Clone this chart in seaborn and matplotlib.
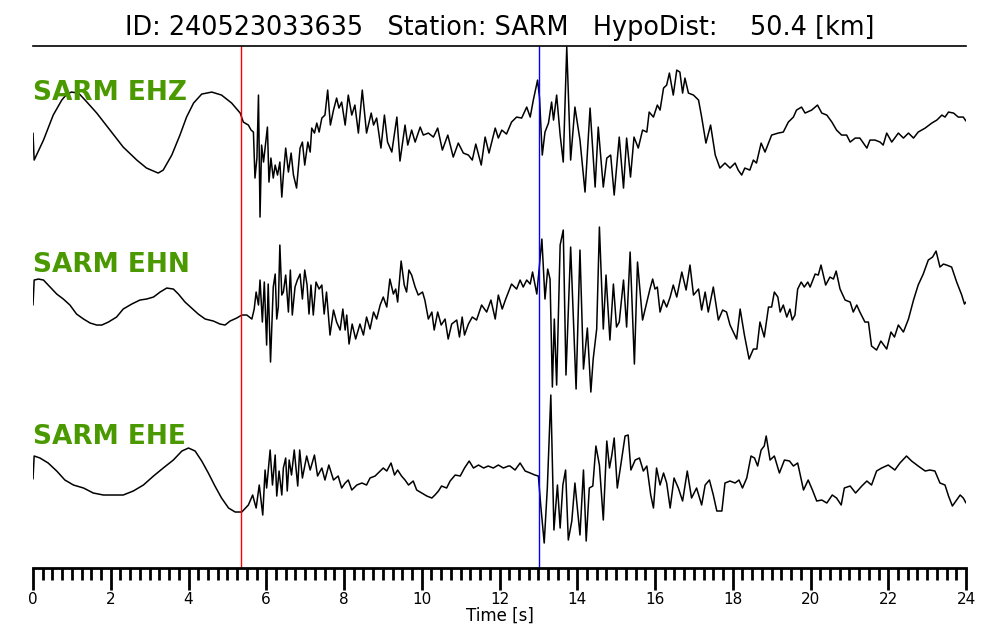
import matplotlib
matplotlib.use('Agg')
import matplotlib.pyplot as plt
from matplotlib.ticker import MultipleLocator
import seaborn as sns
import pandas as pd

# event / station info
event_id = '240523033635'
station = 'SARM'
hypo_dist = 50.4
channels = ['EHZ', 'EHN', 'EHE']
p_pick = 5.35
s_pick = 13.02

ehz_t = [0.0, 0.03, 0.27, 0.52, 0.74, 0.87, 0.99, 1.17, 1.34, 1.64, 1.98, 2.32, 2.67, 2.92, 3.22, 3.35,
         3.57, 3.78, 3.95, 4.13, 4.34, 4.60, 4.85, 5.11, 5.33, 5.41, 5.54, 5.61, 5.67, 5.71, 5.76, 5.80,
         5.84, 5.88, 5.93, 6.03, 6.07, 6.12, 6.18, 6.23, 6.29, 6.35, 6.40, 6.44, 6.50, 6.57, 6.64, 6.70,
         6.78, 6.87, 6.93, 6.99, 7.07, 7.13, 7.17, 7.24, 7.30, 7.36, 7.43, 7.51, 7.58, 7.65, 7.73, 7.81,
         7.87, 7.94, 8.03, 8.11, 8.20, 8.28, 8.37, 8.47, 8.58, 8.70, 8.76, 8.84, 8.95, 9.04, 9.12, 9.23,
         9.36, 9.44, 9.57, 9.64, 9.74, 9.83, 9.96, 10.04, 10.17, 10.30, 10.41, 10.53, 10.67, 10.81, 10.94,
         11.07, 11.20, 11.30, 11.39, 11.53, 11.63, 11.73, 11.89, 11.97, 12.06, 12.18, 12.31, 12.44, 12.57,
         12.70, 12.79, 12.87, 12.98, 13.03, 13.10, 13.17, 13.26, 13.34, 13.39, 13.47, 13.56, 13.64, 13.73,
         13.83, 13.94, 14.07, 14.20, 14.33, 14.46, 14.54, 14.67, 14.76, 14.86, 14.95, 15.08, 15.19, 15.27,
         15.37, 15.46, 15.57, 15.68, 15.79, 15.85, 15.96, 16.06, 16.13, 16.22, 16.30, 16.37, 16.47, 16.56,
         16.64, 16.71, 16.77, 16.86, 16.99, 17.12, 17.20, 17.31, 17.43, 17.55, 17.67, 17.80, 17.93, 18.06,
         18.14, 18.23, 18.31, 18.44, 18.53, 18.61, 18.73, 18.83, 19.00, 19.17, 19.30, 19.43, 19.56, 19.64,
         19.77, 19.86, 20.03, 20.18, 20.29, 20.42, 20.55, 20.67, 20.80, 20.93, 21.02, 21.15, 21.27, 21.36,
         21.45, 21.53, 21.66, 21.79, 21.87, 21.96, 22.09, 22.26, 22.39, 22.52, 22.65, 22.77, 22.95, 23.12,
         23.25, 23.38, 23.46, 23.55, 23.68, 23.80, 23.93, 24.0]
ehz_a = [0, -27, -7, 18, 33, 39, 41, 40, 33, 20, 3, -14, -27, -35, -40, -37,
         -22, -2, 16, 30, 39, 41, 38, 30, 20, 11, 8, 3, 1, -45, -25, 38,
         -84, -12, -29, 6, -49, -25, -45, -32, -42, -29, -64, -42, -15, -39, -20, -42,
         -55, -15, -9, -32, -9, -19, 5, 0, 10, 1, 15, 18, 43, 8, 23, 35,
         25, 31, 8, 38, 18, 28, 0, 43, 0, 20, 8, 15, -15, 18, -9, -19,
         16, -28, 8, -12, 3, -9, 6, -2, 0, -4, 5, -17, -2, -24, -10,
         -20, -22, -27, -11, -32, -4, -20, 5, -5, 3, -1, 11, 16, 15,
         26, 16, 33, 53, 35, -22, 1, 10, 31, 13, 38, -2, -29, 86,
         -27, 26, -7, -59, 25, -54, 6, -54, -25, -22, -62, -4, -55, -5,
         -44, -4, -15, 3, 1, 21, 16, 28, 23, 45, 48, 60, 38, 63,
         61, 40, 55, 40, 38, 33, 16, -10, 8, -22, -35, -30, -35, -30,
         -37, -42, -35, -37, -27, -30, -10, -19, -2, 0, 1, 11, 16, 23,
         26, 20, 23, 28, 20, 18, 11, 3, -2, -2, -9, -5, -5, -10,
         -15, -7, -7, -9, -12, 0, -9, 0, -5, 0, -5, 1, 5, 10,
         13, 18, 16, 21, 20, 16, 16, 12]

ehn_t = [0.0, 0.03, 0.14, 0.27, 0.44, 0.61, 0.78, 0.95, 1.12, 1.30, 1.47, 1.64, 1.77, 1.94, 2.15, 2.32,
         2.54, 2.75, 2.92, 3.10, 3.27, 3.44, 3.61, 3.74, 3.91, 4.08, 4.25, 4.43, 4.64, 4.81, 4.94, 5.07,
         5.24, 5.37, 5.50, 5.63, 5.69, 5.74, 5.80, 5.84, 5.90, 5.95, 6.01, 6.05, 6.11, 6.18, 6.23, 6.27,
         6.31, 6.35, 6.40, 6.44, 6.50, 6.57, 6.62, 6.67, 6.74, 6.80, 6.87, 6.93, 6.99, 7.05, 7.10, 7.15,
         7.21, 7.28, 7.36, 7.43, 7.49, 7.55, 7.64, 7.73, 7.81, 7.90, 7.97, 8.03, 8.07, 8.13, 8.21, 8.30,
         8.41, 8.50, 8.58, 8.67, 8.76, 8.84, 8.93, 9.01, 9.10, 9.18, 9.27, 9.33, 9.38, 9.47, 9.55, 9.61,
         9.67, 9.74, 9.83, 9.91, 10.02, 10.08, 10.17, 10.26, 10.32, 10.41, 10.50, 10.60, 10.68, 10.77,
         10.90, 10.97, 11.04, 11.10, 11.20, 11.30, 11.41, 11.54, 11.67, 11.78, 11.89, 11.97, 12.07, 12.16,
         12.31, 12.44, 12.53, 12.61, 12.70, 12.79, 12.85, 12.96, 13.09, 13.17, 13.24, 13.30, 13.36, 13.41,
         13.47, 13.56, 13.64, 13.71, 13.83, 13.97, 14.07, 14.16, 14.26, 14.35, 14.41, 14.50, 14.57, 14.67,
         14.74, 14.84, 14.93, 15.01, 15.08, 15.19, 15.27, 15.36, 15.47, 15.55, 15.68, 15.79, 15.87, 15.94,
         16.00, 16.06, 16.13, 16.22, 16.30, 16.39, 16.47, 16.56, 16.69, 16.80, 16.90, 16.99, 17.12, 17.20,
         17.29, 17.37, 17.50, 17.63, 17.74, 17.84, 17.93, 18.10, 18.19, 18.30, 18.42, 18.53, 18.62, 18.70,
         18.81, 18.92, 19.00, 19.07, 19.16, 19.22, 19.30, 19.39, 19.47, 19.53, 19.60, 19.67, 19.76, 19.84,
         19.93, 19.99, 20.12, 20.20, 20.27, 20.39, 20.50, 20.59, 20.66, 20.76, 20.89, 21.02, 21.10, 21.19,
         21.27, 21.40, 21.49, 21.57, 21.70, 21.81, 21.96, 22.07, 22.16, 22.26, 22.39, 22.52, 22.65, 22.77,
         22.90, 23.03, 23.14, 23.23, 23.33, 23.42, 23.50, 23.63, 23.76, 23.89, 23.96, 24.0]
ehn_a = [0, 25, 26, 25, 18, 11, 6, 0, -9, -14, -18, -20, -20, -17, -12, -4,
         1, 5, 6, 8, 13, 17, 16, 11, 3, -3, -9, -14, -16, -19, -20, -16,
         -13, -10, -10, -14, -4, 13, 0, 25, -17, 23, -40, 21, -57, 18, 31, -14,
         -2, 60, 10, 13, 30, -7, 35, -10, 18, 25, 31, 6, 35, 20, -9, 20,
         -10, 23, 16, 20, -9, 13, -30, -5, -17, -25, -4, -25, -10, -39, -19, -34,
         -19, -30, -12, -24, -7, -14, 0, 8, -2, 26, 11, 16, 3, 44, 20, 13,
         35, 30, 18, 10, 13, 5, -14, -7, -25, -7, -20, -14, -34, -19,
         -15, -32, -12, -30, -19, -12, -15, 0, -7, 5, -14, 10, -4, 6,
         21, 16, 25, 18, 25, 21, 33, 11, 66, 6, 36, 26, -82, -14,
         -80, 60, 75, -70, 58, -84, 55, -64, -23, -87, -54, -24, 78, -24,
         30, -35, 21, -22, -17, 25, -22, 53, -59, 43, -15, 3, 16, 26,
         16, 18, -7, 5, -2, 8, 20, 8, 33, 15, 40, 10, 16, -5,
         13, -7, 18, -15, -5, -7, -20, -34, -4, -30, -54, -44, -44, -17,
         -32, -2, -2, 13, 8, -7, 0, -12, -4, -15, -10, 16, 23, 18,
         23, 18, 31, 30, 40, 20, 28, 26, 34, 16, 5, 3, -7, 0,
         -7, -17, -17, -41, -45, -36, -44, -27, -32, -20, -27, -14, 5, 20,
         31, 45, 48, 54, 38, 41, 40, 38, 23, 10, 1, 3]

ehe_t = [0.0, 0.03, 0.18, 0.39, 0.61, 0.82, 1.04, 1.30, 1.55, 1.81, 2.07, 2.32, 2.58, 2.84, 3.10, 3.35,
         3.61, 3.83, 4.00, 4.17, 4.34, 4.51, 4.68, 4.85, 5.03, 5.20, 5.37, 5.54, 5.65, 5.74, 5.82, 5.91,
         5.97, 6.01, 6.10, 6.16, 6.23, 6.27, 6.33, 6.40, 6.44, 6.50, 6.54, 6.59, 6.65, 6.72, 6.81, 6.86,
         6.93, 7.04, 7.13, 7.24, 7.32, 7.43, 7.51, 7.61, 7.73, 7.85, 7.94, 8.03, 8.11, 8.20, 8.33, 8.46,
         8.58, 8.67, 8.80, 8.88, 9.01, 9.10, 9.21, 9.30, 9.38, 9.48, 9.57, 9.66, 9.78, 9.87, 10.00, 10.13,
         10.26, 10.34, 10.43, 10.51, 10.64, 10.73, 10.86, 10.99, 11.10, 11.22, 11.33, 11.46, 11.59, 11.71,
         11.84, 11.97, 12.10, 12.23, 12.27, 12.40, 12.53, 12.66, 12.79, 12.91, 13.00, 13.06, 13.15, 13.23,
         13.32, 13.40, 13.49, 13.56, 13.63, 13.70, 13.77, 13.86, 13.94, 14.07, 14.16, 14.23, 14.31, 14.40,
         14.48, 14.57, 14.67, 14.76, 14.83, 14.89, 14.95, 15.03, 15.12, 15.23, 15.31, 15.38, 15.49, 15.60,
         15.70, 15.79, 15.89, 15.96, 16.04, 16.13, 16.22, 16.30, 16.39, 16.49, 16.60, 16.71, 16.83, 16.94,
         17.07, 17.20, 17.29, 17.40, 17.50, 17.59, 17.72, 17.80, 17.93, 18.06, 18.16, 18.25, 18.36, 18.47,
         18.56, 18.64, 18.73, 18.81, 18.86, 18.96, 19.07, 19.20, 19.33, 19.46, 19.56, 19.67, 19.82, 19.94,
         20.05, 20.16, 20.29, 20.42, 20.56, 20.67, 20.79, 20.87, 21.02, 21.16, 21.32, 21.45, 21.57, 21.70,
         21.83, 22.00, 22.17, 22.30, 22.47, 22.60, 22.77, 22.95, 23.07, 23.20, 23.33, 23.46, 23.55, 23.65,
         23.76, 23.85, 23.93, 24.0]
ehe_a = [-2, 21, 19, 14, 6, -3, -8, -11, -16, -18, -18, -18, -14, -8, 1, 9,
         17, 26, 29, 26, 16, 4, -9, -21, -31, -35, -35, -28, -18, -31, -8, -38,
         7, -11, 27, -8, 22, -19, 6, -18, 9, 19, -14, 17, 2, 27, -9, 27,
         -1, 21, 7, 22, 1, 9, -3, 12, -3, 1, -11, -6, -3, -13, -8, -6,
         -8, -1, 1, 4, 9, 6, 14, 2, 7, 1, -3, -8, -4, -13, -16, -19,
         -21, -18, -14, -9, -11, -4, 2, 1, 9, 16, 9, 12, 9, 11,
         9, 12, 9, 11, 11, 7, 14, 6, 4, 2, 1, -28, -66, -11,
         82, -53, -8, -51, -8, 7, -63, -44, -6, -58, 7, -64, -11, -9,
         31, 12, -43, 36, 9, 22, 39, -11, 12, 41, 42, 7, 17, 19,
         6, 11, -18, -31, 9, -8, 4, -6, -31, -1, -11, -24, 6, -21,
         -11, -28, -8, -3, -18, -34, -34, -6, -4, -6, -3, -11, -1, 21,
         19, 11, 27, 31, 41, 17, 21, 4, 17, 16, 11, 14, -13, -3,
         -13, -24, -23, -26, -18, -21, -28, -11, -9, -16, -9, -4, -8, 6,
         9, 12, 7, 14, 21, 16, 11, 6, 7, 6, -6, -8, -19, -29,
         -23, -18, -21, -26]

trace_offsets = [0, -172, -344]

frames = []
for ch, t, a, off in zip(channels, [ehz_t, ehn_t, ehe_t], [ehz_a, ehn_a, ehe_a], trace_offsets):
    frames.append(pd.DataFrame({'time': t, 'amp': [v + off for v in a], 'channel': ch}))
df = pd.concat(frames, ignore_index=True)

sns.set_style('white')
plt.rcParams['font.family'] = ['DejaVu Sans']
plt.rcParams['text.color'] = 'black'
plt.rcParams['axes.labelcolor'] = 'black'
plt.rcParams['xtick.color'] = 'black'

fig = plt.figure(figsize=(10, 6.4), dpi=100)
ax = fig.add_axes([0.033, 0.1125, 0.933, 0.8155])

for ch in channels:
    sub = df[df['channel'] == ch]
    sns.lineplot(data=sub, x='time', y='amp', ax=ax, color='black', lw=1.1,
                 estimator=None, sort=False, legend=False)

ax.axvline(p_pick, color='red', lw=1.0)
ax.axvline(s_pick, color='blue', lw=1.0)

green = '#4b9900'
for ch, off in zip(channels, trace_offsets):
    ax.text(0, off + 33, f'{station} {ch}', color=green, fontsize=19,
            fontweight='bold', ha='left', va='baseline')

ax.set_xlim(0, 24)
ax.set_ylim(-435, 87)
ax.set_yticks([])
ax.set_ylabel('')
ax.set_xlabel('Time [s]', fontsize=12, labelpad=0)

ax.xaxis.set_major_locator(MultipleLocator(2))
ax.xaxis.set_minor_locator(MultipleLocator(0.25))
ax.tick_params(axis='x', which='major', direction='out', length=16, width=2,
               labelsize=11, pad=1, bottom=True)
ax.tick_params(axis='x', which='minor', direction='out', length=8.5, width=2, bottom=True)

for side in ['left', 'right']:
    ax.spines[side].set_visible(False)
ax.spines['bottom'].set_linewidth(2)
ax.spines['top'].set_linewidth(1.2)
ax.spines['bottom'].set_color('black')
ax.spines['top'].set_color('black')

ax.set_title(f'ID: {event_id}   Station: {station}   HypoDist:    {hypo_dist} [km]',
             fontsize=18.4, pad=8, color='black')

fig.savefig('out.png', dpi=100)
